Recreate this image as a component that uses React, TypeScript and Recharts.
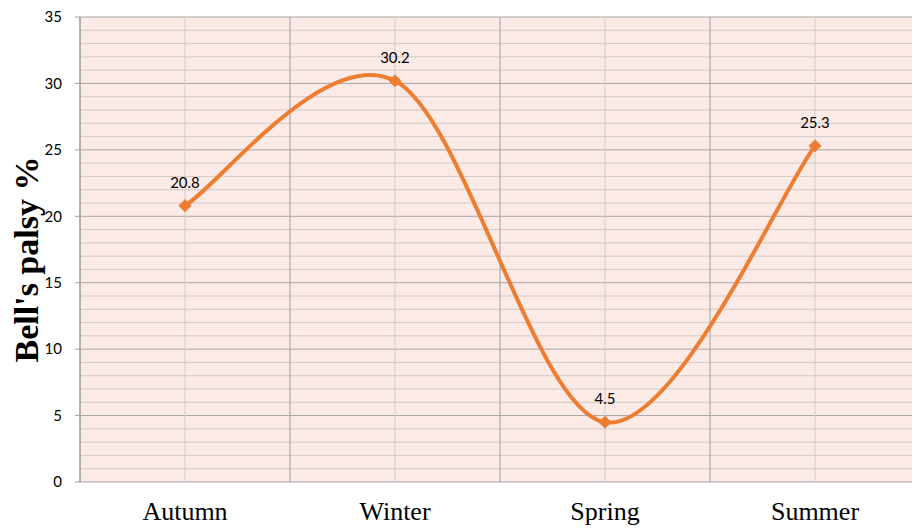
import { LineChart, Line, XAxis, YAxis, CartesianGrid, ReferenceLine, LabelList } from 'recharts';

const SEASONS = ['Autumn', 'Winter', 'Spring', 'Summer'];
const PALSY_PCT = [20.8, 30.2, 4.5, 25.3];
const Y_TICKS = [0, 5, 10, 15, 20, 25, 30, 35];
const Y_MINOR = [1, 2, 3, 4, 6, 7, 8, 9, 11, 12, 13, 14, 16, 17, 18, 19, 21, 22, 23, 24, 26, 27, 28, 29, 31, 32, 33, 34];
const X_CENTERS = [0, 1, 2, 3];
const X_BOUNDS = [-0.5, 0.5, 1.5, 2.5, 3.5];

const data = SEASONS.map((season, i) => ({ idx: i, season, value: PALSY_PCT[i] }));

// Excel-style smoothed line (Catmull-Rom through the points)
function excelSmooth(context: any) {
    let pts: number[][] = [];
    return {
        areaStart() {},
        areaEnd() {},
        lineStart() { pts = []; },
        point(x: number, y: number) { pts.push([+x, +y]); },
        lineEnd() {
            const n = pts.length;
            if (!n) return;
            context.moveTo(pts[0][0], pts[0][1]);
            for (let i = 0; i < n - 1; i++) {
                const p0 = pts[Math.max(i - 1, 0)];
                const p1 = pts[i];
                const p2 = pts[i + 1];
                const p3 = pts[Math.min(i + 2, n - 1)];
                context.bezierCurveTo(
                    p1[0] + (p2[0] - p0[0]) / 6, p1[1] + (p2[1] - p0[1]) / 6,
                    p2[0] - (p3[0] - p1[0]) / 6, p2[1] - (p3[1] - p1[1]) / 6,
                    p2[0], p2[1]
                );
            }
        },
    };
}

const Diamond = (props: any) => {
    const { cx, cy, index } = props;
    const r = 6;
    return (
        <path
            key={`d-${index}`}
            d={`M${cx},${cy - r}L${cx + r},${cy}L${cx},${cy + r}L${cx - r},${cy}Z`}
            fill="#ED7D31"
            stroke="#ED7D31"
        />
    );
};

const YLabel = (props: any) => {
    const { viewBox } = props;
    const x = viewBox.x + 26;
    const y = viewBox.y + viewBox.height / 2 + 10;
    return (
        <text
            x={x}
            y={y}
            transform={`rotate(-90 ${x} ${y})`}
            textAnchor="middle"
            dominantBaseline="central"
            fontFamily="'Liberation Serif', 'DejaVu Serif', serif"
            fontWeight="bold"
            fontSize={34}
            fill="#000"
        >
            Bell's palsy %
        </text>
    );
};

export default function App() {
    return (
        <div style={{ position: 'absolute', left: 0, top: 0, width: 912, height: 532, overflow: 'hidden', background: '#fff' }}>
            <LineChart width={920} height={532} data={data} margin={{ top: 17, right: 0, bottom: 0, left: 0 }}>
                <CartesianGrid xAxisId="edge" fill="#FBEAE6" vertical={false} stroke="#A6A6A6" />
                <CartesianGrid xAxisId="main" horizontal={false} stroke="#CFCFCF" />
                {Y_MINOR.map((v) => (
                    <ReferenceLine key={`m${v}`} y={v} xAxisId="main" stroke="#D3C9C6" strokeWidth={1} />
                ))}
                {X_BOUNDS.map((v) => (
                    <ReferenceLine key={`b${v}`} x={v} xAxisId="edge" stroke="#A0A0A0" strokeWidth={1} />
                ))}
                <XAxis
                    xAxisId="edge"
                    type="number"
                    dataKey="idx"
                    domain={[-0.5, 3.5]}
                    ticks={X_BOUNDS}
                    tick={false}
                    tickSize={8}
                    axisLine={{ stroke: '#A0A0A0' }}
                    tickLine={{ stroke: '#A0A0A0' }}
                    height={0}
                />
                <XAxis
                    xAxisId="main"
                    type="number"
                    dataKey="idx"
                    domain={[-0.5, 3.5]}
                    ticks={X_CENTERS}
                    tickFormatter={(v: number) => SEASONS[v]}
                    axisLine={false}
                    tickLine={false}
                    tickSize={0}
                    tickMargin={20}
                    height={50}
                    tick={{ fontFamily: "'Liberation Serif', serif", fontSize: 26, fill: '#000' }}
                />
                <YAxis
                    domain={[0, 35]}
                    ticks={Y_TICKS}
                    width={80}
                    tickSize={5}
                    tickMargin={13}
                    axisLine={{ stroke: '#A0A0A0' }}
                    tickLine={{ stroke: '#A0A0A0' }}
                    tick={{ fontFamily: 'Lato, sans-serif', fontSize: 15, fill: '#000' }}
                    label={<YLabel />}
                />
                <Line
                    xAxisId="main"
                    dataKey="value"
                    type={excelSmooth as any}
                    stroke="#ED7D31"
                    strokeWidth={4}
                    dot={<Diamond />}
                    activeDot={false}
                    isAnimationActive={false}
                >
                    <LabelList
                        dataKey="value"
                        position="top"
                        offset={18}
                        fontFamily="Lato, sans-serif"
                        fontSize={15}
                        fill="#000"
                    />
                </Line>
            </LineChart>
        </div>
    );
}
